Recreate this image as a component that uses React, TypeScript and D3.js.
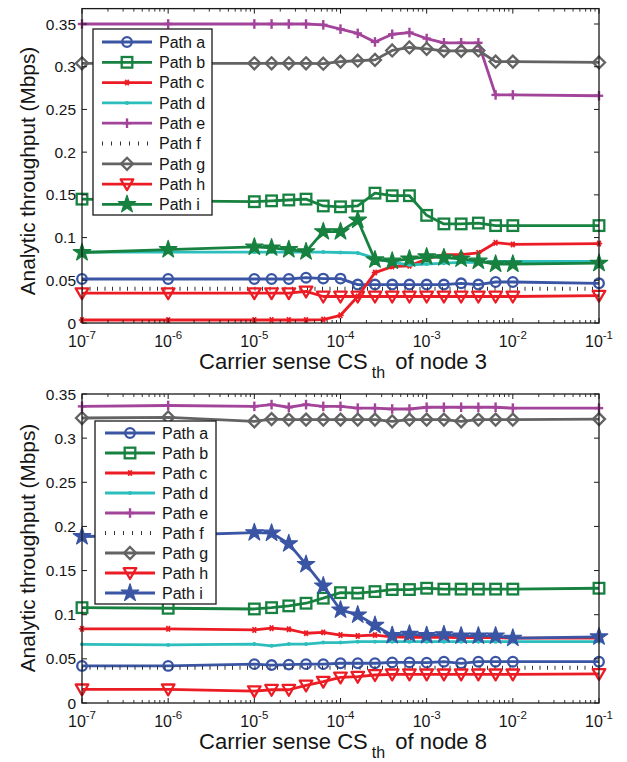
import React from 'react';
import * as d3 from 'd3';

// Carrier-sense threshold values (W) at which throughput was evaluated
const xValues = [
  1e-7, 1e-6, 1e-5, 1.585e-5, 2.512e-5, 3.981e-5, 6.31e-5, 1e-4, 1.585e-4, 2.512e-4,
  3.981e-4, 6.31e-4, 1e-3, 1.585e-3, 2.512e-3, 3.981e-3, 6.31e-3, 1e-2, 1e-1,
];

const pathNames = ['Path a', 'Path b', 'Path c', 'Path d', 'Path e', 'Path f', 'Path g', 'Path h', 'Path i'];

const yTickValues = [0, 0.05, 0.1, 0.15, 0.2, 0.25, 0.3, 0.35];
const yTickLabels = ['0', '0.05', '0.1', '0.15', '0.2', '0.25', '0.3', '0.35'];
const xTickExponents = [-7, -6, -5, -4, -3, -2, -1];

// Throughput (Mbps) when varying CS_th of node 3
const node3A = [0.0515, 0.0515, 0.0515, 0.0515, 0.0515, 0.053, 0.052, 0.052, 0.045, 0.045, 0.045, 0.045, 0.045, 0.045, 0.0465, 0.045, 0.048, 0.048, 0.0465];
const node3B = [0.145, 0.143, 0.142, 0.143, 0.144, 0.145, 0.137, 0.136, 0.137, 0.152, 0.149, 0.149, 0.126, 0.116, 0.116, 0.117, 0.114, 0.114, 0.114];
const node3C = [0.0035, 0.0035, 0.0035, 0.0035, 0.0035, 0.0035, 0.004, 0.009, 0.031, 0.059, 0.066, 0.067, 0.075, 0.08, 0.08, 0.082, 0.094, 0.092, 0.093];
const node3D = [0.083, 0.083, 0.083, 0.083, 0.083, 0.083, 0.083, 0.0825, 0.082, 0.076, 0.071, 0.068, 0.069, 0.07, 0.071, 0.071, 0.072, 0.072, 0.072];
const node3E = [0.35, 0.35, 0.35, 0.35, 0.35, 0.35, 0.349, 0.344, 0.339, 0.329, 0.338, 0.34, 0.333, 0.328, 0.328, 0.328, 0.267, 0.267, 0.266];
const node3F = [0.04, 0.04, 0.04, 0.04, 0.04, 0.04, 0.04, 0.04, 0.04, 0.04, 0.04, 0.04, 0.04, 0.04, 0.04, 0.04, 0.04, 0.04, 0.04];
const node3G = [0.304, 0.304, 0.304, 0.304, 0.304, 0.304, 0.3035, 0.306, 0.307, 0.308, 0.319, 0.3225, 0.321, 0.3185, 0.3185, 0.319, 0.306, 0.306, 0.305];
const node3H = [0.035, 0.035, 0.035, 0.035, 0.035, 0.037, 0.031, 0.031, 0.031, 0.031, 0.031, 0.031, 0.031, 0.031, 0.031, 0.031, 0.031, 0.031, 0.032];
const node3I = [0.0825, 0.086, 0.089, 0.088, 0.086, 0.0835, 0.107, 0.107, 0.1205, 0.074, 0.0725, 0.075, 0.0775, 0.0765, 0.075, 0.0725, 0.069, 0.069, 0.07];

// Throughput (Mbps) when varying CS_th of node 8
const node8A = [0.042, 0.042, 0.044, 0.043, 0.0435, 0.044, 0.044, 0.045, 0.045, 0.045, 0.046, 0.046, 0.0457, 0.0468, 0.045, 0.0468, 0.0468, 0.0468, 0.0468];
const node8B = [0.108, 0.1073, 0.1065, 0.108, 0.11, 0.113, 0.1187, 0.125, 0.1245, 0.1262, 0.1285, 0.1285, 0.13, 0.129, 0.129, 0.129, 0.129, 0.129, 0.13];
const node8C = [0.084, 0.084, 0.0828, 0.0847, 0.0835, 0.079, 0.08, 0.077, 0.076, 0.077, 0.075, 0.0745, 0.0745, 0.0745, 0.074, 0.074, 0.074, 0.0735, 0.0735];
const node8D = [0.0665, 0.0658, 0.0667, 0.0648, 0.0667, 0.0667, 0.0684, 0.0684, 0.0695, 0.0695, 0.0695, 0.0695, 0.0695, 0.0695, 0.0695, 0.0695, 0.0695, 0.0695, 0.0695];
const node8E = [0.336, 0.337, 0.336, 0.338, 0.335, 0.338, 0.336, 0.336, 0.334, 0.334, 0.333, 0.333, 0.335, 0.335, 0.335, 0.335, 0.335, 0.334, 0.334];
const node8F = [0.04, 0.04, 0.04, 0.04, 0.04, 0.04, 0.04, 0.04, 0.04, 0.04, 0.04, 0.04, 0.04, 0.04, 0.04, 0.04, 0.04, 0.04, 0.04];
const node8G = [0.3228, 0.3235, 0.319, 0.3216, 0.321, 0.321, 0.321, 0.321, 0.321, 0.321, 0.319, 0.321, 0.321, 0.321, 0.319, 0.321, 0.321, 0.321, 0.3216];
const node8H = [0.0155, 0.0155, 0.0135, 0.015, 0.015, 0.02, 0.0242, 0.029, 0.0298, 0.0317, 0.0325, 0.0325, 0.0325, 0.0325, 0.0325, 0.0325, 0.0325, 0.0325, 0.033];
const node8I = [0.1886, 0.19, 0.193, 0.1925, 0.1805, 0.157, 0.1327, 0.1054, 0.0998, 0.088, 0.0765, 0.078, 0.0765, 0.0775, 0.076, 0.076, 0.076, 0.0735, 0.075];

const BLUE = '#3a55a4';
const GREEN = '#17813f';
const RED = '#ec1c24';
const CYAN = '#2cbdbd';
const MAGENTA = '#a3449b';
const GRAY = '#636363';
const AXIS = '#1a1a1a';
const TEXT = '#151515';
const FONT = '"Liberation Sans", Arial, Helvetica, sans-serif';

type Marker = 'circle' | 'square' | 'asterisk' | 'dot' | 'plus' | 'none' | 'diamond' | 'triangle' | 'star';

interface Style {
  color: string;
  marker: Marker;
  dotted?: boolean;
}

const baseStyles: Style[] = [
  { color: BLUE, marker: 'circle' },
  { color: GREEN, marker: 'square' },
  { color: RED, marker: 'asterisk' },
  { color: CYAN, marker: 'dot' },
  { color: MAGENTA, marker: 'plus' },
  { color: '#333333', marker: 'none', dotted: true },
  { color: GRAY, marker: 'diamond' },
  { color: RED, marker: 'triangle' },
  { color: GREEN, marker: 'star' },
];

const starPath = d3.symbol().type(d3.symbolStar).size(95)() as string;

function MarkerGlyph({ m, color, x, y }: { m: Marker; color: string; x: number; y: number }) {
  const t = `translate(${x},${y})`;
  switch (m) {
    case 'circle':
      return <circle cx={x} cy={y} r={4.8} fill="none" stroke={color} strokeWidth={2.3} />;
    case 'square':
      return <rect x={x - 5.3} y={y - 5.3} width={10.6} height={10.6} fill="none" stroke={color} strokeWidth={2.3} />;
    case 'asterisk':
      return (
        <g transform={t} stroke={color} strokeWidth={1.7}>
          <line x1={-3.2} y1={0} x2={3.2} y2={0} />
          <line x1={-1.7} y1={-2.8} x2={1.7} y2={2.8} />
          <line x1={-1.7} y1={2.8} x2={1.7} y2={-2.8} />
          <circle r={1.8} fill={color} stroke="none" />
        </g>
      );
    case 'dot':
      return <circle cx={x} cy={y} r={2} fill={color} />;
    case 'plus':
      return (
        <g transform={t} stroke={color} strokeWidth={2.4}>
          <line x1={-4.2} y1={0} x2={4.2} y2={0} />
          <line x1={0} y1={-4.8} x2={0} y2={4.8} />
        </g>
      );
    case 'diamond':
      return <path transform={t} d="M0,-6L6,0L0,6L-6,0Z" fill="none" stroke={color} strokeWidth={2.3} />;
    case 'triangle':
      return <path transform={t} d="M-6.3,-4.8L6.3,-4.8L0,6Z" fill="none" stroke={color} strokeWidth={2.3} strokeLinejoin="round" />;
    case 'star':
      return <path transform={t} d={starPath} fill={color} stroke={color} strokeWidth={1.2} strokeLinejoin="round" />;
    default:
      return null;
  }
}

interface PanelProps {
  series: number[][];
  pathIColor: string;
  yBottom: number;
  y035: number;
  yMax: number;
  nodeLabel: string;
  legend: { x0: number; x1: number; y0: number; y1: number; first: number; step: number; lineX0: number; lineX1: number; textX: number };
  yLabelCenter: number;
}

const xLeft = 82;
const xRight = 599;

function Panel({ series, pathIColor, yBottom, y035, yMax, nodeLabel, legend, yLabelCenter }: PanelProps) {
  const x = d3.scaleLog().domain([1e-7, 1e-1]).range([xLeft, xRight]);
  const y = d3.scaleLinear().domain([0, 0.35]).range([yBottom, y035]);
  const yTop = y(yMax);
  const styles = baseStyles.map((s, i) => (i === 8 ? { ...s, color: pathIColor } : s));
  const line = d3
    .line<number>()
    .x((_, i) => x(xValues[i]))
    .y((d) => y(d));

  const minorTicks: number[] = [];
  for (let e = -7; e < -1; e++) {
    for (let k = 2; k <= 9; k++) minorTicks.push(k * Math.pow(10, e));
  }

  return (
    <g>
      {/* data lines */}
      {series.map((vals, si) => {
        const s = styles[si];
        return (
          <g key={si}>
            <path
              d={line(vals) as string}
              fill="none"
              stroke={s.color}
              strokeWidth={s.dotted ? 4 : 2.8}
              strokeDasharray={s.dotted ? '1,6.5' : undefined}
              strokeLinejoin="round"
            />
            {s.marker !== 'none' &&
              vals.map((v, i) => <MarkerGlyph key={i} m={s.marker} color={s.color} x={x(xValues[i])} y={y(v)} />)}
          </g>
        );
      })}

      {/* axes box */}
      <rect x={xLeft} y={yTop} width={xRight - xLeft} height={yBottom - yTop} fill="none" stroke={AXIS} strokeWidth={1.3} />

      {/* y ticks */}
      {yTickValues.map((v, i) => (
        <g key={'y' + i}>
          <line x1={xLeft} x2={xLeft + 5} y1={y(v)} y2={y(v)} stroke={AXIS} strokeWidth={1} />
          <line x1={xRight} x2={xRight - 5} y1={y(v)} y2={y(v)} stroke={AXIS} strokeWidth={1} />
          <text x={xLeft - 6} y={y(v) + 5.5} textAnchor="end" fontSize={15.5} fontFamily={FONT} fill={TEXT}>
            {yTickLabels[i]}
          </text>
        </g>
      ))}

      {/* x ticks */}
      {xTickExponents.map((e) => {
        const px = x(Math.pow(10, e));
        return (
          <g key={'x' + e}>
            <line x1={px} x2={px} y1={yBottom} y2={yBottom - 5} stroke={AXIS} strokeWidth={1} />
            <line x1={px} x2={px} y1={yTop} y2={yTop + 5} stroke={AXIS} strokeWidth={1} />
            <text x={px} y={yBottom + 24} textAnchor="middle" fontSize={16} fontFamily={FONT} fill={TEXT}>
              10
              <tspan fontSize={11.5} dy={-8}>
                {'-' + Math.abs(e)}
              </tspan>
            </text>
          </g>
        );
      })}
      {minorTicks.map((v, i) => {
        const px = x(v);
        return (
          <g key={'m' + i}>
            <line x1={px} x2={px} y1={yBottom} y2={yBottom - 3} stroke={AXIS} strokeWidth={0.9} />
            <line x1={px} x2={px} y1={yTop} y2={yTop + 3} stroke={AXIS} strokeWidth={0.9} />
          </g>
        );
      })}

      {/* axis labels */}
      <text x={343} y={yBottom + 46} textAnchor="middle" fontSize={22} fontFamily={FONT} fill={TEXT}>
        Carrier sense CS
        <tspan fontSize={16} dy={9} dx={4}>
          th
        </tspan>
        <tspan dy={-9} dx={4}>
          {' of node ' + nodeLabel}
        </tspan>
      </text>
      <text
        transform={`translate(35,${yLabelCenter}) rotate(-90)`}
        textAnchor="middle"
        fontSize={20.8}
        fontFamily={FONT}
        fill={TEXT}
      >
        Analytic throughput (Mbps)
      </text>

      {/* legend */}
      <rect
        x={legend.x0}
        y={legend.y0}
        width={legend.x1 - legend.x0}
        height={legend.y1 - legend.y0}
        fill="#fff"
        stroke={AXIS}
        strokeWidth={1.3}
      />
      {pathNames.map((name, i) => {
        const s = styles[i];
        const cy = legend.first + i * legend.step;
        const mid = (legend.lineX0 + legend.lineX1) / 2;
        return (
          <g key={'l' + i}>
            <line
              x1={legend.lineX0}
              x2={legend.lineX1}
              y1={cy}
              y2={cy}
              stroke={s.color}
              strokeWidth={s.dotted ? 4 : 2.8}
              strokeDasharray={s.dotted ? '1,8' : undefined}
            />
            {s.marker !== 'none' && <MarkerGlyph m={s.marker} color={s.color} x={mid} y={cy} />}
            <text x={legend.textX} y={cy + 5.8} fontSize={16} fontFamily={FONT} fill={TEXT}>
              {name}
            </text>
          </g>
        );
      })}
    </g>
  );
}

export default function App() {
  return (
    <svg
      width={627}
      height={762}
      style={{ position: 'absolute', left: 0, top: 0, background: '#fff' }}
      xmlns="http://www.w3.org/2000/svg"
    >
      <rect width={627} height={762} fill="#fff" />
      <Panel
        series={[node3A, node3B, node3C, node3D, node3E, node3F, node3G, node3H, node3I]}
        pathIColor={GREEN}
        yBottom={323}
        y035={24}
        yMax={0.368}
        nodeLabel="3"
        legend={{ x0: 93, x1: 212, y0: 29, y1: 215, first: 42, step: 20.3, lineX0: 102, lineX1: 152, textX: 159 }}
        yLabelCenter={171}
      />
      <Panel
        series={[node8A, node8B, node8C, node8D, node8E, node8F, node8G, node8H, node8I]}
        pathIColor={BLUE}
        yBottom={703}
        y035={394}
        yMax={0.35}
        nodeLabel="8"
        legend={{ x0: 95, x1: 216, y0: 421, y1: 604, first: 433, step: 20, lineX0: 105, lineX1: 155, textX: 162 }}
        yLabelCenter={548}
      />
    </svg>
  );
}
